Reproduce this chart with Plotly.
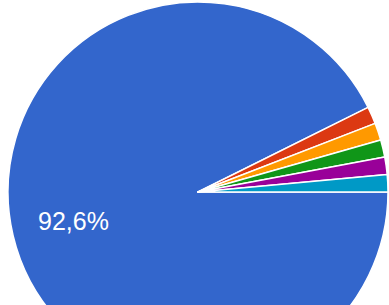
import math
import plotly.graph_objects as go

labels = ["A", "B", "C", "D", "E", "F"]
values = [63, 1, 1, 1, 1, 1]
colors = ["#3366cc", "#dc3912", "#ff9900", "#109618", "#990099", "#0099c6"]

W, H = 389, 390
CX, CY, R = 198, 192, 190  # pie center / radius in px (from top)
ROT = 90

fig = go.Figure(go.Pie(
    labels=labels, values=values, sort=False, direction="clockwise", rotation=ROT,
    marker=dict(colors=colors, line=dict(color="white", width=1.5)),
    textinfo="none",
    domain=dict(x=[(CX - R) / W, (CX + R) / W], y=[(H - CY - R) / H, (H - CY + R) / H]),
    hoverinfo="none",
))

# label of the largest slice placed at its mid-angle
total = sum(values)
share = values[0] / total
mid = math.radians(0 - 360 * share / 2)  # start at 3 o'clock, clockwise
f = 0.675
lx = CX + R * f * math.cos(mid)
ly = CY - R * f * math.sin(mid)
fig.add_annotation(
    x=lx / W, y=(H - ly) / H, xref="paper", yref="paper",
    text=f"{share * 100:.1f}%".replace(".", ","), showarrow=False,
    xanchor="center", yanchor="middle",
    font=dict(family="Liberation Sans, Arial", size=25, color="white"),
)
fig.update_layout(width=W, height=H, margin=dict(l=0, r=0, t=0, b=0),
                  showlegend=False, separators=",.", paper_bgcolor="white")
fig.write_html("out.html", config={"displayModeBar": False},
               post_script="document.body.style.margin='0';document.body.style.overflow='hidden';")
